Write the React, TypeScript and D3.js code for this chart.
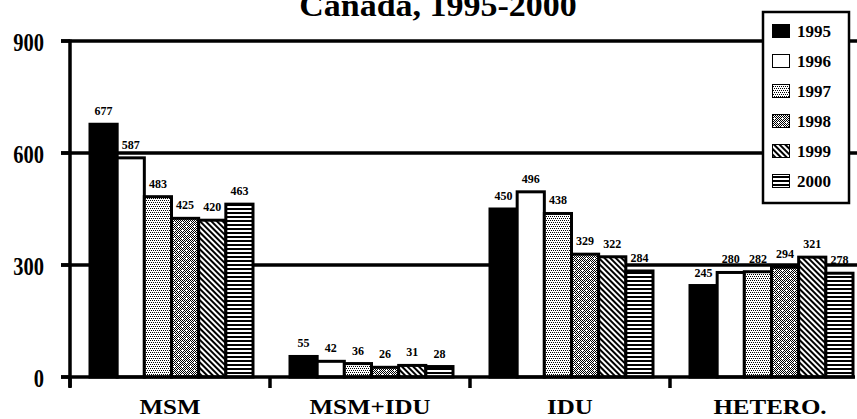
import React from 'react';
import * as d3 from 'd3';

// chart values
const categories = ['MSM', 'MSM+IDU', 'IDU', 'HETERO.'];
const years = ['1995', '1996', '1997', '1998', '1999', '2000'];
const cases1995 = [677, 55, 450, 245];
const cases1996 = [587, 42, 496, 280];
const cases1997 = [483, 36, 438, 282];
const cases1998 = [425, 26, 329, 294];
const cases1999 = [420, 31, 322, 321];
const cases2000 = [463, 28, 284, 278];
const yTicks = [0, 300, 600, 900];
const titleText = 'Canada, 1995-2000';

const seriesByYear = [cases1995, cases1996, cases1997, cases1998, cases1999, cases2000];
const fills = ['#000', '#fff', 'url(#p1997)', 'url(#p1998)', 'url(#p1999)', 'url(#p2000)'];

const W = 857;
const H = 419;
const FONT = '"Liberation Serif", "Times New Roman", serif';

// 8x8 checker tile with white plus marks for 1998
const tile1998 = (() => {
  const plus = new Set<string>();
  [[2, 2], [6, 6]].forEach(([cx, cy]) => {
    [[0, 0], [1, 0], [-1, 0], [0, 1], [0, -1]].forEach(([dx, dy]) => plus.add(`${cx + dx},${cy + dy}`));
  });
  const cells: Array<[number, number]> = [];
  for (let py = 0; py < 8; py++) {
    for (let px = 0; px < 8; px++) {
      if ((px + py) % 2 === 0 && !plus.has(`${px},${py}`)) cells.push([px, py]);
    }
  }
  return cells;
})();

const App: React.FC = () => {
  const x0 = d3.scaleBand<string>().domain(categories).range([70, 870]).padding(0);
  const x1 = d3.scaleBand<string>().domain(years).range([20, 183]).padding(0);
  const y = d3.scaleLinear().domain([0, 900]).range([377, 41]);

  const bars = categories.flatMap((cat, ci) =>
    years.map((yr, yi) => ({ cat, yr, yi, value: seriesByYear[yi][ci] }))
  );

  return (
    <svg width={W} height={H} style={{ position: 'absolute', left: 0, top: 0, background: '#fff' }} fontFamily={FONT}>
      <defs>
        <pattern id="p1997" width={4} height={4} patternUnits="userSpaceOnUse">
          <rect width={4} height={4} fill="#fff" />
          <rect x={0} y={0} width={1} height={1} fill="#000" />
          <rect x={2} y={0} width={1} height={1} fill="#000" />
          <rect x={1} y={2} width={1} height={1} fill="#000" />
          <rect x={3} y={2} width={1} height={1} fill="#000" />
        </pattern>
        <pattern id="p1998" width={8} height={8} patternUnits="userSpaceOnUse">
          <rect width={8} height={8} fill="#fff" />
          {tile1998.map(([px, py]) => (
            <rect key={`${px}-${py}`} x={px} y={py} width={1} height={1} fill="#000" />
          ))}
        </pattern>
        <pattern id="p1999" width={4} height={4} patternUnits="userSpaceOnUse" patternTransform="rotate(-45)">
          <rect width={4} height={4} fill="#fff" />
          <rect width={2} height={4} fill="#000" />
        </pattern>
        <pattern id="p2000" width={4} height={4} patternUnits="userSpaceOnUse">
          <rect width={4} height={4} fill="#fff" />
          <rect width={4} height={2} fill="#000" />
        </pattern>
      </defs>

      {/* title (upper line is cut off in the original) */}
      <text transform="translate(438,16) scale(1,0.9)" textAnchor="middle" fontSize={34} fontWeight="bold">
        {titleText}
      </text>

      {/* horizontal grid lines */}
      {yTicks.filter(t => t > 0).map(t => (
        <line key={t} x1={61} x2={W} y1={y(t)} y2={y(t)} stroke="#000" strokeWidth={3.5} />
      ))}

      {/* bars */}
      {bars.map(b => {
        const bx = (x0(b.cat) ?? 0) + (x1(b.yr) ?? 0);
        const by = y(b.value);
        return (
          <rect
            key={`${b.cat}-${b.yr}`}
            x={bx}
            y={by}
            width={x1.bandwidth()}
            height={y(0) - by}
            fill={fills[b.yi]}
            stroke="#000"
            strokeWidth={3}
          />
        );
      })}

      {/* value labels */}
      {bars.map(b => (
        <text
          key={`l-${b.cat}-${b.yr}`}
          x={(x0(b.cat) ?? 0) + (x1(b.yr) ?? 0) + x1.bandwidth() / 2}
          y={y(b.value) - 9}
          textAnchor="middle"
          fontSize={12}
          fontWeight="bold"
        >
          {b.value}
        </text>
      ))}

      {/* y axis */}
      <line x1={70} x2={70} y1={y(900) - 1.5} y2={387} stroke="#000" strokeWidth={3.5} />
      {yTicks.map(t => (
        <g key={`yt-${t}`}>
          <line x1={61} x2={70} y1={y(t)} y2={y(t)} stroke="#000" strokeWidth={3.5} />
          <text
            transform={`translate(44,${y(t) + 9.5}) scale(1,1.2)`}
            textAnchor="end"
            fontSize={20.5}
            fontWeight="bold"
          >
            {t}
          </text>
        </g>
      ))}

      {/* x axis */}
      <line x1={61} x2={855} y1={y(0)} y2={y(0)} stroke="#000" strokeWidth={3.5} />
      {categories.map(c => (
        <line key={`xt-${c}`} x1={x0(c) ?? 0} x2={x0(c) ?? 0} y1={y(0)} y2={388} stroke="#000" strokeWidth={3.5} />
      ))}
      {categories.map(c => (
        <text
          key={`xl-${c}`}
          transform={`translate(${(x0(c) ?? 0) + x0.bandwidth() / 2},413.5) scale(1,0.8)`}
          textAnchor="middle"
          fontSize={25}
          fontWeight="bold"
        >
          {c}
        </text>
      ))}

      {/* legend */}
      <g>
        <rect x={763} y={12} width={86} height={191} fill="#fff" stroke="#000" strokeWidth={2.5} />
        {years.map((yr, i) => {
          const cy = 31 + i * 30;
          return (
            <g key={`lg-${yr}`}>
              <rect x={772.5} y={cy - 6.5} width={17} height={13} fill={fills[i]} stroke="#000" strokeWidth={1} />
              <text x={797} y={cy + 6} fontSize={17} fontWeight="bold">
                {yr}
              </text>
            </g>
          );
        })}
      </g>
    </svg>
  );
};

export default App;
